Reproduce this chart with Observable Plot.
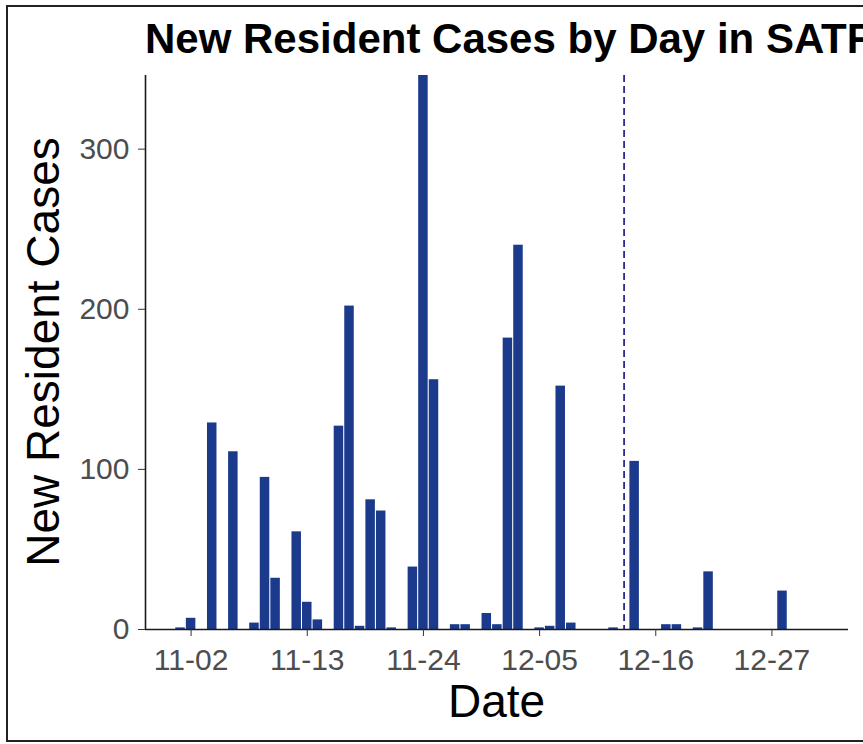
<!DOCTYPE html>
<html>
<head>
<meta charset="utf-8">
<script src="https://cdn.jsdelivr.net/npm/d3@7"></script>
<script src="https://cdn.jsdelivr.net/npm/@observablehq/plot@0.6"></script>
<style>
html, body { margin: 0; padding: 0; background: #fff; overflow: hidden; }
#wrap { position: relative; width: 863px; height: 744px; overflow: hidden; background: #fff;
        font-family: "Liberation Sans", Arial, sans-serif; }
#border { position: absolute; left: 6px; top: 5px; width: 900px; height: 737px;
          border: 2px solid #222; box-sizing: border-box; }
#chart { position: absolute; left: 0; top: 0; }
#title { position: absolute; left: 145px; top: 17.5px; font-weight: bold; font-size: 42px;
         line-height: 1; white-space: nowrap; color: #000; }
#xtitle { position: absolute; left: 145px; width: 703px; top: 678px; text-align: center;
          font-size: 46px; line-height: 1; color: #000; white-space: nowrap; }
#ytitle { position: absolute; left: 20px; top: 629px; width: 554px; height: 46px; text-align: center;
          font-size: 46px; line-height: 1; color: #000; white-space: nowrap;
          transform-origin: 0 0; transform: rotate(-90deg); }
#chart g[aria-label$="tick label"] { fill: #4d4d4d; }
</style>
</head>
<body>
<div id="wrap">
  <div id="border"></div>
  <div id="chart"></div>
  <div id="title">New Resident Cases by Day in SATF</div>
  <div id="xtitle">Date</div>
  <div id="ytitle">New Resident Cases</div>
</div>
<script>
// Data
const dates = [
  "2020-11-01", "2020-11-02", "2020-11-04", "2020-11-06", "2020-11-08", "2020-11-09",
  "2020-11-10", "2020-11-12", "2020-11-13", "2020-11-14", "2020-11-16", "2020-11-17",
  "2020-11-18", "2020-11-19", "2020-11-20", "2020-11-21", "2020-11-23", "2020-11-24",
  "2020-11-25", "2020-11-27", "2020-11-28", "2020-11-30", "2020-12-01", "2020-12-02",
  "2020-12-03", "2020-12-05", "2020-12-06", "2020-12-07", "2020-12-08", "2020-12-12",
  "2020-12-14", "2020-12-17", "2020-12-18", "2020-12-20", "2020-12-21", "2020-12-28"
];
const cases = [
  1, 7, 129, 111, 4, 95,
  32, 61, 17, 6, 127, 202,
  2, 81, 74, 1, 39, 346,
  156, 3, 3, 10, 3, 182,
  240, 1, 2, 152, 4, 1,
  105, 3, 3, 1, 36, 24
];
const xTickDates = ["2020-11-02", "2020-11-13", "2020-11-24", "2020-12-05", "2020-12-16", "2020-12-27"];
const yTicks = [0, 100, 200, 300];
const xDomain = ["2020-10-28T16:22Z", "2021-01-03T06:00Z"];
const yDomain = [0, 346];
const markerDate = ["2020-12-13"];

const barColor = "#1b3a8c";
const markerColor = "#2e2a8c";
const axisColor = "#1a1a1a";
const DAY = 864e5;
const barWidth = 0.9;

const data = dates.map((d, i) => ({ date: new Date(d), value: cases[i] }));

const chart = Plot.plot({
  width: 863,
  height: 744,
  marginLeft: 145,
  marginRight: 15,
  marginTop: 75,
  marginBottom: 115,
  style: { fontFamily: "'Liberation Sans', Arial, sans-serif", background: "transparent", overflow: "visible" },
  x: { type: "utc", domain: xDomain.map(d => new Date(d)) },
  y: { domain: yDomain },
  marks: [
    Plot.rectY(data, {
      x1: d => new Date(+d.date - barWidth / 2 * DAY),
      x2: d => new Date(+d.date + barWidth / 2 * DAY),
      y: "value",
      fill: barColor
    }),
    Plot.ruleX(markerDate.map(d => new Date(d)), {
      stroke: markerColor, strokeWidth: 1.8, strokeDasharray: "7,4"
    }),
    Plot.ruleY([yDomain[0]], { stroke: axisColor, strokeWidth: 1.6 }),
    Plot.ruleX([new Date(xDomain[0])], { stroke: axisColor, strokeWidth: 1.6 }),
    Plot.axisX({
      ticks: xTickDates.map(d => new Date(d)),
      tickFormat: d3.utcFormat("%m-%d"),
      tickSize: 7, tickPadding: 12, fontSize: 30, color: "#333", label: null
    }),
    Plot.axisY({
      ticks: yTicks, tickSize: 7, tickPadding: 9, fontSize: 30, color: "#333", label: null
    })
  ]
});
document.getElementById("chart").appendChild(chart);
</script>
</body>
</html>
